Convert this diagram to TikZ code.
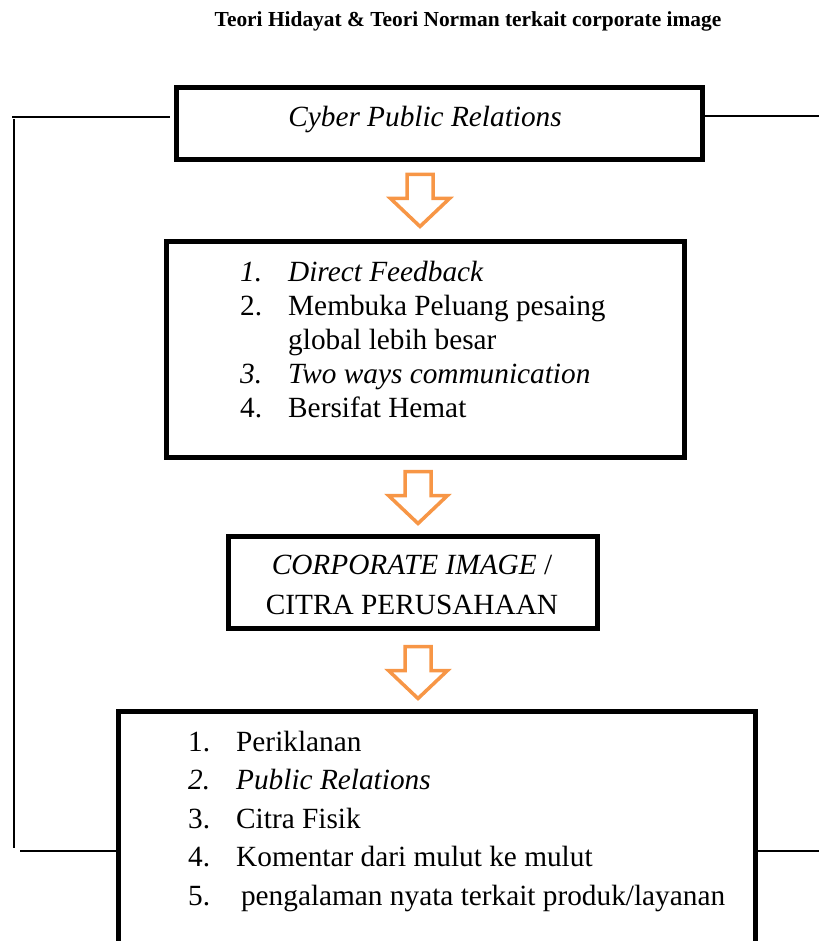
\documentclass[tikz,border=0pt]{standalone}
\usepackage{fontspec}
\setmainfont{Liberation Serif}
\usetikzlibrary{positioning}
\definecolor{arroworange}{HTML}{F79646}
\tikzstyle{box} = [draw, line width=5pt, inner sep=0pt]
\tikzstyle{line} = [draw, line width=1.6pt]
\tikzstyle{txt} = [inner sep=0pt, align=left, font=\fontsize{29.3}{34}\selectfont]
\tikzset{
  orangearrow/.style ={draw=arroworange, line width=3.5pt, line join=miter}
}
\newcommand{\num}[1]{\makebox[48pt][l]{#1}}
% hollow block arrow, #1 = top centre
\newcommand{\blockarrow}[1]{\draw[orangearrow] (#1) ++(-13,1.5) -- ++(26,0) -- ++(0,24) -- ++(16.5,0) -- ++(-29.5,28) -- ++(-29.5,-28) -- ++(16.5,0) -- cycle;}

\begin{document}
\begin{tikzpicture}[x=1pt,y=-1pt]
	\useasboundingbox (0,0) rectangle (819,941);
	\node[font=\bfseries\fontsize{21.4}{24}\selectfont, anchor=base] (title) at (468,27) {Teori Hidayat \& Teori Norman terkait corporate image};

	% boxes (anchor=base is the last line's baseline)
	\draw[box] (176,88) rectangle (702,160);
	\node[txt, anchor=base] (cpr) at (425,127) {\itshape Cyber Public Relations};

	\draw[box] (166,241) rectangle (684,457);
	\node[txt, anchor=base west] (feat) at (240,417) {\num{\itshape 1.}\itshape Direct Feedback\\
		\num{2.}Membuka Peluang pesaing\\
		\num{}global lebih besar\\
		\num{\itshape 3.}\itshape Two ways communication\\
		\num{4.}Bersifat Hemat};

	\draw[box] (228,536) rectangle (597,628);
	\node[txt, align=center, anchor=base, font=\fontsize{29.3}{40}\selectfont] (img) at (412,614) {\itshape CORPORATE IMAGE \upshape/\\CITRA PERUSAHAAN};

	\draw[box] (118,711) rectangle (755,980);
	\node[txt, anchor=base west, font=\fontsize{29.3}{38.5}\selectfont] (fak) at (188,905) {\num{1.}Periklanan\\
		\num{\itshape 2.}\itshape Public Relations\\
		\num{3.}Citra Fisik\\
		\num{4.}Komentar dari mulut ke mulut\\
		\num{5.}\,pengalaman nyata terkait produk/layanan};

	% arrows
	\blockarrow{420,173}
	\blockarrow{418,470}
	\blockarrow{418,645}

	% side lines
	\draw[line] (12,117) -- (170,117);
	\draw[line] (14,119) -- (14,848);
	\draw[line] (20,851) -- (118,851);
	\draw[line] (702,116) -- (819,116);
	\draw[line] (755,851) -- (819,851);
\end{tikzpicture}
\end{document}
